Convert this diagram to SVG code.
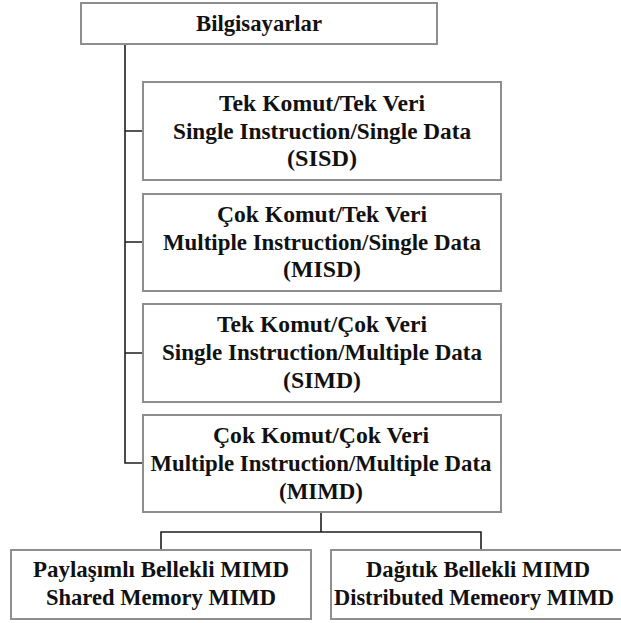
<svg xmlns="http://www.w3.org/2000/svg" width="621" height="623" viewBox="0 0 621 623">
  <style>
    .box { fill: #ffffff; stroke: #8e8e8e; stroke-width: 2; }
    .wire { fill: none; stroke: #1e1e1e; stroke-width: 1.6; }
    .lbl { font-family: 'Liberation Serif', 'Times New Roman', 'DejaVu Serif', serif; font-size: 24px; font-weight: bold; fill: #111111; text-anchor: middle; }
    .tight { font-size: 22.5px; }
  </style>
  <rect width="621" height="623" fill="#ffffff"/>

  <!-- connectors -->
  <g id="connectors">
    <path class="wire" d="M125,44 V463 H143"/>
    <path class="wire" d="M125,131 H143 M125,242 H143 M125,353 H143"/>
    <path class="wire" d="M321,512 V532 M161,550 V532 H481 V550"/>
  </g>

  <g id="computers">
    <rect class="box" x="81" y="3" width="356" height="41"/>
    <text class="lbl" x="259" y="31" textLength="126" lengthAdjust="spacingAndGlyphs">Bilgisayarlar</text>
  </g>

  <g id="sisd">
    <rect class="box" x="143" y="82" width="358" height="98"/>
    <text class="lbl" x="322" y="111" textLength="206" lengthAdjust="spacingAndGlyphs">Tek Komut/Tek Veri</text>
    <text class="lbl" x="322" y="138.5" textLength="298" lengthAdjust="spacingAndGlyphs">Single Instruction/Single Data</text>
    <text class="lbl" x="322" y="166" textLength="70" lengthAdjust="spacingAndGlyphs">(SISD)</text>
  </g>

  <g id="misd">
    <rect class="box" x="143" y="194" width="358" height="97"/>
    <text class="lbl" x="322" y="222" textLength="210" lengthAdjust="spacingAndGlyphs">Çok Komut/Tek Veri</text>
    <text class="lbl" x="322" y="249.5" textLength="318" lengthAdjust="spacingAndGlyphs">Multiple Instruction/Single Data</text>
    <text class="lbl" x="322" y="277" textLength="78" lengthAdjust="spacingAndGlyphs">(MISD)</text>
  </g>

  <g id="simd">
    <rect class="box" x="143" y="304" width="358" height="98"/>
    <text class="lbl" x="322" y="332" textLength="210" lengthAdjust="spacingAndGlyphs">Tek Komut/Çok Veri</text>
    <text class="lbl" x="322" y="360" textLength="320" lengthAdjust="spacingAndGlyphs">Single Instruction/Multiple Data</text>
    <text class="lbl" x="322" y="388" textLength="78" lengthAdjust="spacingAndGlyphs">(SIMD)</text>
  </g>

  <g id="mimd">
    <rect class="box" x="143" y="415" width="358" height="97"/>
    <text class="lbl" x="321" y="443" textLength="216" lengthAdjust="spacingAndGlyphs">Çok Komut/Çok Veri</text>
    <text class="lbl" x="321" y="471" textLength="341" lengthAdjust="spacingAndGlyphs">Multiple Instruction/Multiple Data</text>
    <text class="lbl" x="321" y="499" textLength="84" lengthAdjust="spacingAndGlyphs">(MIMD)</text>
  </g>

  <g id="shared-mimd">
    <rect class="box" x="11" y="550" width="300" height="69"/>
    <text class="lbl" x="161" y="577" textLength="256" lengthAdjust="spacingAndGlyphs">Paylaşımlı Bellekli MIMD</text>
    <text class="lbl" x="161" y="605" textLength="230" lengthAdjust="spacingAndGlyphs">Shared Memory MIMD</text>
  </g>

  <g id="distributed-mimd">
    <rect class="box" x="331" y="550" width="300" height="69"/>
    <text class="lbl" x="478" y="577" textLength="224" lengthAdjust="spacingAndGlyphs">Dağıtık Bellekli MIMD</text>
    <text class="lbl tight" x="474" y="605" textLength="280" lengthAdjust="spacingAndGlyphs">Distributed Memeory MIMD</text>
  </g>
</svg>
